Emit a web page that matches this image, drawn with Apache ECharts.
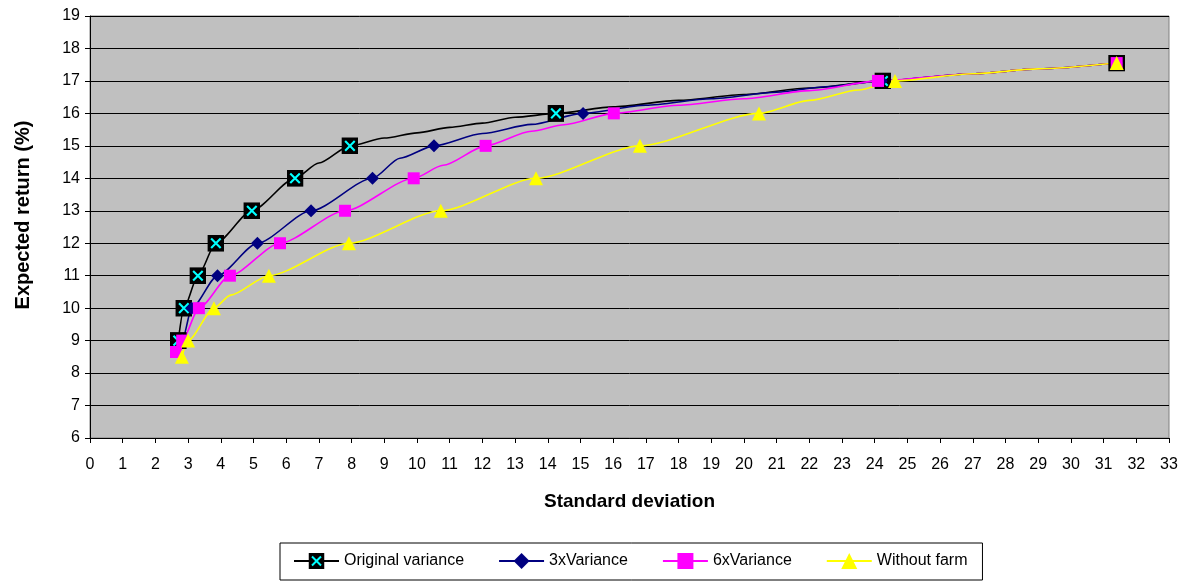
<!DOCTYPE html>
<html>
<head>
<meta charset="utf-8">
<script src="https://cdn.jsdelivr.net/npm/echarts@6/dist/echarts.min.js"></script>
<style>
html,body{margin:0;padding:0;background:#fff;}
#chart{width:1201px;height:585px;}
</style>
</head>
<body>
<div id="chart"></div>
<script>
// ---- Data ----
const seriesNames = ['Original variance', '3xVariance', '6xVariance', 'Without farm'];

const origX = [2.70, 2.87, 3.30, 3.85, 4.95, 6.27, 7.00, 7.95, 9.00, 10.00, 11.00, 12.00, 13.00, 14.25, 16.00, 18.00, 20.00, 22.00, 24.25, 27.00, 29.00, 31.40];
const origY = [9.00, 10.00, 11.00, 12.00, 13.00, 14.00, 14.47, 15.00, 15.24, 15.40, 15.57, 15.70, 15.88, 16.00, 16.20, 16.40, 16.58, 16.78, 17.00, 17.22, 17.37, 17.55];
const origMark = [1,1,1,1,1,1,0,1,0,0,0,0,0,1,0,0,0,0,1,0,0,1];

const x3X = [2.78, 2.82, 3.11, 3.90, 5.12, 6.76, 8.64, 9.48, 10.52, 12.00, 13.50, 15.08, 17.00, 19.00, 21.00, 22.50, 24.20, 27.00, 29.00, 31.40];
const x3Y = [8.62, 9.00, 10.00, 11.00, 12.00, 13.00, 14.00, 14.62, 15.00, 15.38, 15.66, 16.00, 16.25, 16.45, 16.65, 16.82, 17.00, 17.22, 17.37, 17.55];
const x3Mark = [0,1,1,1,1,1,1,0,1,0,0,1,0,0,0,0,1,0,0,1];

const x6X = [2.63, 2.82, 3.33, 4.28, 5.81, 7.80, 9.90, 10.80, 12.10, 13.50, 14.50, 16.02, 18.00, 20.00, 22.00, 24.10, 27.00, 29.00, 31.40];
const x6Y = [8.65, 9.00, 10.00, 11.00, 12.00, 13.00, 14.00, 14.40, 15.00, 15.45, 15.65, 16.00, 16.25, 16.45, 16.70, 17.00, 17.22, 17.37, 17.55];
const x6Mark = [1,1,1,1,1,1,1,0,1,0,0,1,0,0,0,1,0,0,1];

const farmX = [2.81, 3.00, 3.79, 4.30, 5.47, 7.92, 10.73, 13.64, 16.82, 20.46, 22.00, 23.50, 24.62, 27.00, 29.00, 31.40];
const farmY = [8.50, 9.00, 10.00, 10.40, 11.00, 12.00, 13.00, 14.00, 15.00, 16.00, 16.40, 16.72, 17.00, 17.22, 17.37, 17.55];
const farmMark = [1,1,1,0,1,1,1,1,1,1,0,0,1,0,0,1];

const xTicks = {min: 0, max: 33, step: 1};
const yTicks = {min: 6, max: 19, step: 1};

// ---- Build chart ----
const crossSvg = "<svg xmlns='http://www.w3.org/2000/svg' width='16' height='16' viewBox='0 0 16 16'>" +
  "<rect x='0' y='0' width='16' height='16' fill='#000000'/>" +
  "<path d='M3.5 3.5 L12.5 12.5 M12.5 3.5 L3.5 12.5' stroke='#00FFFF' stroke-width='2'/></svg>";
const crossSymbol = 'image://data:image/svg+xml;charset=utf-8,' + encodeURIComponent(crossSvg);

function build(xs, ys, marks) {
  return xs.map((x, i) => marks[i] ? {value: [x, ys[i]]} : {value: [x, ys[i]], symbol: 'none'});
}

const lineSeries = [
  {name: seriesNames[0], xs: origX, ys: origY, mk: origMark, color: '#000000', symbol: crossSymbol, size: 17},
  {name: seriesNames[1], xs: x3X, ys: x3Y, mk: x3Mark, color: '#000080', symbol: 'diamond', size: 13},
  {name: seriesNames[2], xs: x6X, ys: x6Y, mk: x6Mark, color: '#FF00FF', symbol: 'rect', size: 12},
  {name: seriesNames[3], xs: farmX, ys: farmY, mk: farmMark, color: '#FFFF00', symbol: 'triangle', size: 14}
].map(s => ({
  name: s.name,
  type: 'line',
  data: build(s.xs, s.ys, s.mk),
  symbol: s.symbol,
  symbolSize: s.size,
  showAllSymbol: true,
  smooth: 0.25,
  smoothMonotone: 'x',
  color: s.color,
  lineStyle: {color: s.color, width: 1.6},
  itemStyle: {color: s.color, opacity: 1},
  emphasis: {disabled: true},
  animation: false
}));

const font = "'Liberation Sans', Arial, sans-serif";

const option = {
  animation: false,
  backgroundColor: '#ffffff',
  grid: {
    left: 90, right: 32, top: 16, bottom: 147,
    show: true, backgroundColor: '#C0C0C0', borderColor: '#808080', borderWidth: 1,
    containLabel: false
  },
  xAxis: {
    type: 'value', min: xTicks.min, max: xTicks.max, interval: xTicks.step,
    name: 'Standard deviation', nameLocation: 'middle', nameGap: 54,
    nameTextStyle: {fontFamily: font, fontWeight: 'bold', fontSize: 19, color: '#000'},
    axisLine: {show: true, lineStyle: {color: '#000', width: 1}},
    axisTick: {show: true, inside: false, length: 5, lineStyle: {color: '#000'}},
    axisLabel: {fontFamily: font, fontSize: 16, color: '#000', margin: 19},
    splitLine: {show: false}
  },
  yAxis: {
    type: 'value', min: yTicks.min, max: yTicks.max, interval: yTicks.step,
    name: 'Expected return (%)', nameLocation: 'middle', nameGap: 57, nameRotate: 90,
    nameTextStyle: {fontFamily: font, fontWeight: 'bold', fontSize: 20, color: '#000', padding: [0, 0, 0, 24]},
    axisLine: {show: true, lineStyle: {color: '#000', width: 1}},
    axisTick: {show: true, inside: false, length: 5, lineStyle: {color: '#000'}},
    axisLabel: {fontFamily: font, fontSize: 16, color: '#000', margin: 10},
    splitLine: {show: true, lineStyle: {color: '#000000', width: 1}}
  },
  legend: {
    left: 280, top: 543,
    data: seriesNames,
    itemWidth: 45, itemHeight: 20, itemGap: 34,
    padding: [10, 15, 11, 13],
    borderColor: '#000', borderWidth: 1,
    textStyle: {fontFamily: font, fontSize: 16, color: '#000'},
    selectedMode: false
  },
  series: lineSeries
};

const chart = echarts.init(document.getElementById('chart'), null, {renderer: 'canvas'});
chart.setOption(option);
</script>
</body>
</html>
